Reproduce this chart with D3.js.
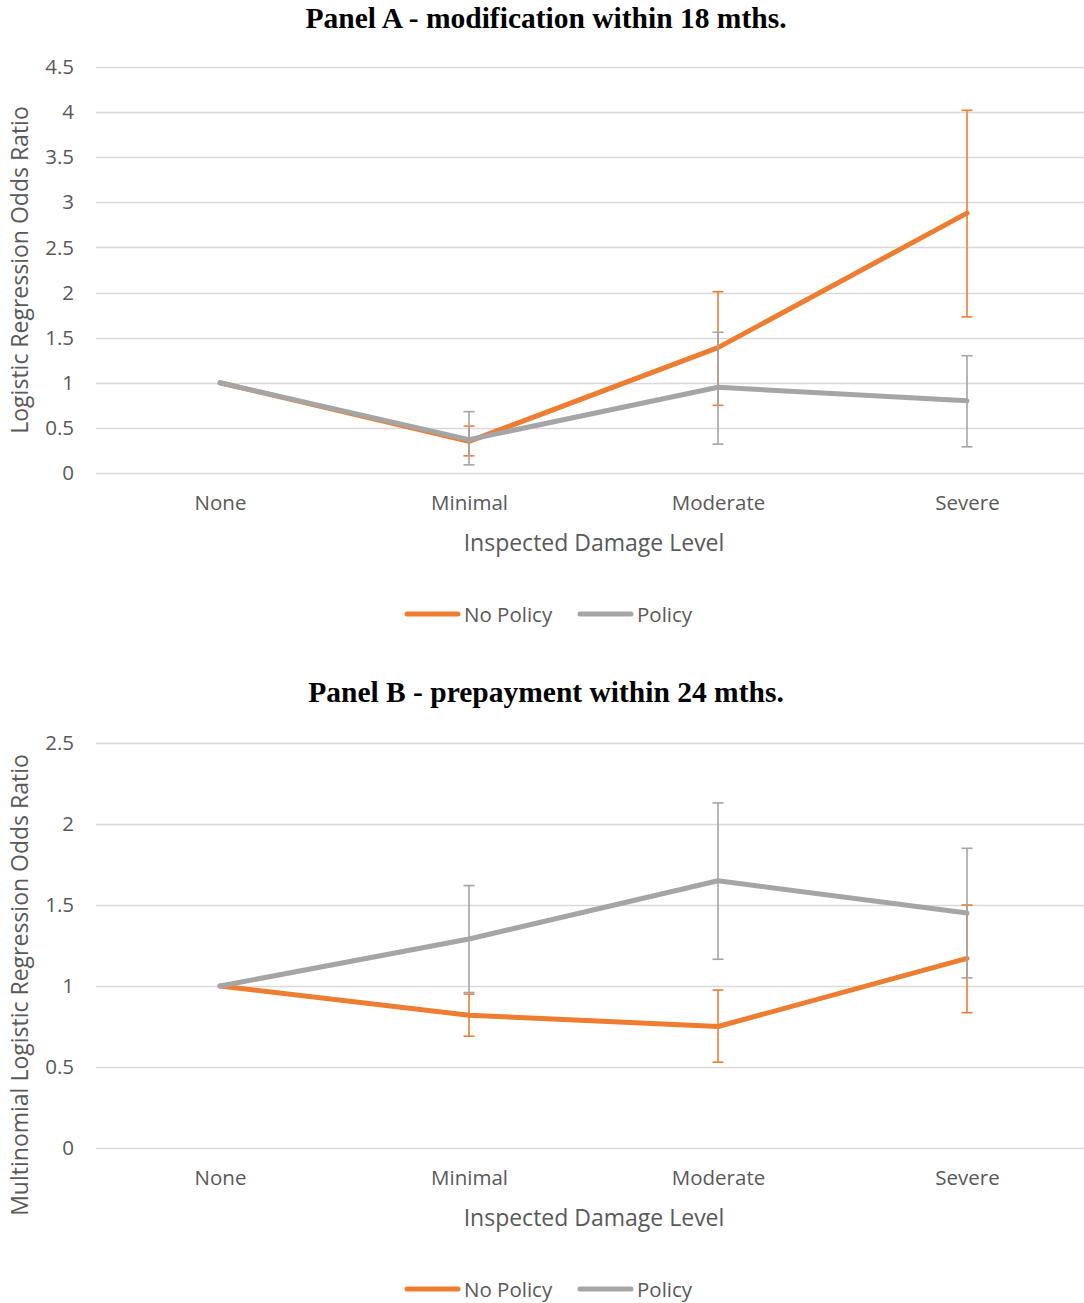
<!DOCTYPE html>
<html>
<head>
<meta charset="utf-8">
<script src="https://cdn.jsdelivr.net/npm/d3@7"></script>
<style>
  html, body { margin: 0; padding: 0; background: #ffffff; }
  svg { display: block; }
</style>
</head>
<body>
<svg id="chart" width="1084" height="1303"></svg>
<script>
// Damage-level categories shared by both panels
const categories = ["None", "Minimal", "Moderate", "Severe"];
const seriesNames = ["No Policy", "Policy"];

// Panel A: modification within 18 months (logistic regression odds ratios)
const modNoPolicy      = [1, 0.35, 1.39, 2.88];
const modNoPolicyLow   = [null, 0.19, 0.75, 1.73];
const modNoPolicyHigh  = [null, 0.52, 2.01, 4.02];
const modPolicy        = [1, 0.37, 0.95, 0.80];
const modPolicyLow     = [null, 0.09, 0.32, 0.29];
const modPolicyHigh    = [null, 0.68, 1.56, 1.30];
const modTicks         = [0, 0.5, 1, 1.5, 2, 2.5, 3, 3.5, 4, 4.5];

// Panel B: prepayment within 24 months (multinomial logistic regression odds ratios)
const prepNoPolicy     = [1, 0.82, 0.75, 1.17];
const prepNoPolicyLow  = [null, 0.69, 0.53, 0.835];
const prepNoPolicyHigh = [null, 0.95, 0.975, 1.50];
const prepPolicy       = [1, 1.29, 1.65, 1.45];
const prepPolicyLow    = [null, 0.96, 1.165, 1.05];
const prepPolicyHigh   = [null, 1.62, 2.13, 1.85];
const prepTicks        = [0, 0.5, 1, 1.5, 2, 2.5];

const colors = { "No Policy": "#ed7d31", "Policy": "#a5a5a5" };
const textColor = "#595959";
const sansFont = "'Open Sans', Lato, sans-serif";
const serifFont = "'Liberation Serif', 'DejaVu Serif', serif";

const svg = d3.select("#chart");

function drawPanel(opt) {
  const g = svg.append("g");

  const x = d3.scalePoint().domain(categories).range([220, 967]);
  const y = d3.scaleLinear().domain([0, d3.max(opt.ticks)]).range([opt.yBottom, opt.yTop]);

  // title
  g.append("text")
    .attr("x", 546).attr("y", opt.titleY)
    .attr("text-anchor", "middle")
    .style("font-family", serifFont).style("font-weight", "bold")
    .style("font-size", "29.5px").style("fill", "#000")
    .text(opt.title);

  // horizontal gridlines
  g.append("g").selectAll("line").data(opt.ticks).join("line")
    .attr("x1", 96).attr("x2", 1092)
    .attr("y1", d => Math.round(y(d)) + 0.5).attr("y2", d => Math.round(y(d)) + 0.5)
    .attr("stroke", "#d9d9d9").attr("stroke-width", 1.4);

  // y axis tick labels
  const yAxis = d3.axisLeft(y).tickValues(opt.ticks).tickSize(0).tickPadding(0)
    .tickFormat(d3.format("~g"));
  const ya = g.append("g").attr("transform", "translate(74,0)").call(yAxis);
  ya.select(".domain").remove();
  ya.selectAll("text")
    .style("font-family", sansFont).style("font-size", "20.5px").style("fill", textColor);

  // x axis category labels
  const xAxis = d3.axisBottom(x).tickSize(0).tickPadding(0);
  const xa = g.append("g").attr("transform", `translate(0,${opt.yBottom + 22})`).call(xAxis);
  xa.select(".domain").remove();
  xa.selectAll("text")
    .style("font-family", sansFont).style("font-size", "20.5px").style("fill", textColor);

  // axis titles
  g.append("text")
    .attr("x", 594).attr("y", opt.yBottom + 78)
    .attr("text-anchor", "middle")
    .style("font-family", sansFont).style("font-size", "23px").style("fill", textColor)
    .text("Inspected Damage Level");

  g.append("text")
    .attr("transform", `translate(28,${opt.yTitleCenter}) rotate(-90)`)
    .attr("text-anchor", "middle")
    .style("font-family", sansFont).style("font-size", "23px").style("fill", textColor)
    .text(opt.yTitle);

  const line = d3.line().x((d, i) => x(categories[i])).y(d => y(d));

  opt.series.forEach(s => {
    const c = colors[s.name];
    g.append("path")
      .datum(s.values)
      .attr("d", line)
      .attr("fill", "none")
      .attr("stroke", c)
      .attr("stroke-width", 5)
      .attr("stroke-linejoin", "round")
      .attr("stroke-linecap", "round");

    const bars = categories.map((cat, i) => ({ cat, lo: s.low[i], hi: s.high[i] }))
      .filter(d => d.lo != null);
    const eg = g.append("g").attr("stroke", c).attr("stroke-width", 1.6);
    eg.selectAll(".stem").data(bars).join("line")
      .attr("x1", d => x(d.cat)).attr("x2", d => x(d.cat))
      .attr("y1", d => y(d.lo)).attr("y2", d => y(d.hi));
    eg.selectAll(".capHi").data(bars).join("line")
      .attr("x1", d => x(d.cat) - 5.5).attr("x2", d => x(d.cat) + 5.5)
      .attr("y1", d => y(d.hi)).attr("y2", d => y(d.hi));
    eg.selectAll(".capLo").data(bars).join("line")
      .attr("x1", d => x(d.cat) - 5.5).attr("x2", d => x(d.cat) + 5.5)
      .attr("y1", d => y(d.lo)).attr("y2", d => y(d.lo));
  });

  // legend
  const legend = g.append("g").attr("transform", `translate(0,${opt.legendY})`);
  const items = [{ name: seriesNames[0], x: 407 }, { name: seriesNames[1], x: 580 }];
  items.forEach(it => {
    legend.append("line")
      .attr("x1", it.x).attr("x2", it.x + 51)
      .attr("y1", 0).attr("y2", 0)
      .attr("stroke", colors[it.name]).attr("stroke-width", 5)
      .attr("stroke-linecap", "round");
    legend.append("text")
      .attr("x", it.x + 57).attr("y", 7.5)
      .style("font-family", sansFont).style("font-size", "20.5px").style("fill", textColor)
      .text(it.name);
  });
}

drawPanel({
  title: "Panel A - modification within 18 mths.",
  yTitle: "Logistic Regression Odds Ratio",
  ticks: modTicks,
  yTop: 67, yBottom: 473,
  titleY: 28,
  yTitleCenter: 270,
  legendY: 614,
  series: [
    { name: "No Policy", values: modNoPolicy, low: modNoPolicyLow, high: modNoPolicyHigh },
    { name: "Policy", values: modPolicy, low: modPolicyLow, high: modPolicyHigh }
  ]
});

drawPanel({
  title: "Panel B - prepayment within 24 mths.",
  yTitle: "Multinomial Logistic Regression Odds Ratio",
  ticks: prepTicks,
  yTop: 743, yBottom: 1148,
  titleY: 702,
  yTitleCenter: 985,
  legendY: 1289,
  series: [
    { name: "No Policy", values: prepNoPolicy, low: prepNoPolicyLow, high: prepNoPolicyHigh },
    { name: "Policy", values: prepPolicy, low: prepPolicyLow, high: prepPolicyHigh }
  ]
});
</script>
</body>
</html>
